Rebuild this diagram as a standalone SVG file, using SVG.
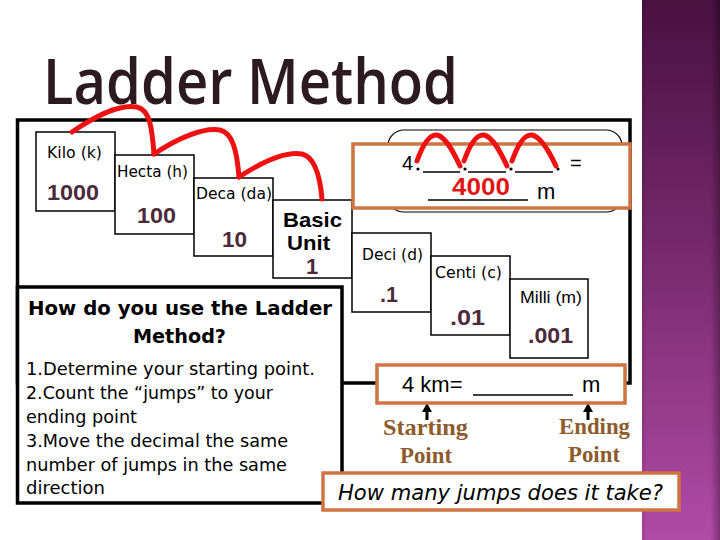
<svg xmlns="http://www.w3.org/2000/svg" width="720" height="540" viewBox="0 0 720 540">
  <defs>
    <linearGradient id="purp" x1="0" y1="0" x2="0" y2="1">
      <stop offset="0" stop-color="#4a1040"/>
      <stop offset="0.5" stop-color="#7a2c70"/>
      <stop offset="1" stop-color="#b24aa8"/>
    </linearGradient>
    <linearGradient id="shade" x1="0" y1="0" x2="1" y2="0">
      <stop offset="0" stop-color="#000" stop-opacity="0.12"/>
      <stop offset="0.06" stop-color="#000" stop-opacity="0"/>
      <stop offset="0.88" stop-color="#000" stop-opacity="0"/>
      <stop offset="1" stop-color="#000" stop-opacity="0.3"/>
    </linearGradient>
    <style>
      .frame { fill: none; stroke: #000; stroke-width: 3.5; }
      .box { fill: #fff; stroke: #000; stroke-width: 1.5; }
      .obox { fill: #fff; stroke: #cf7443; stroke-width: 3.5; }
      .lbl { font-family: "DejaVu Sans", Verdana, sans-serif; font-size: 15px; fill: #000; }
      .lbla { font-family: "Liberation Sans", Arial, sans-serif; font-size: 16px; fill: #000; }
      .num { font-family: "Liberation Sans", Arial, sans-serif; font-weight: bold; font-size: 22px; fill: #4b2a3c; }
      .jump { fill: none; stroke: #ee1111; stroke-width: 5; stroke-linecap: round; stroke-linejoin: round; }
      .ul { stroke: #000; stroke-width: 1.5; }
      .txt { font-family: "DejaVu Sans", Tahoma, sans-serif; font-size: 17px; fill: #000; }
      .head { font-family: "DejaVu Sans", Tahoma, sans-serif; font-size: 19px; font-weight: bold; fill: #000; }
      .pt { font-family: "Liberation Serif", "Times New Roman", serif; font-weight: bold; font-size: 23px; fill: #8e5b2a; }
      .arr { stroke: #000; stroke-width: 3; }
    </style>
  </defs>

  <rect x="0" y="0" width="720" height="540" fill="#fff"/>

  <g id="sidebar">
    <rect x="642" y="0" width="78" height="540" fill="url(#purp)"/>
    <rect x="642" y="0" width="78" height="540" fill="url(#shade)"/>
  </g>

  <g id="title">
    <text x="43" y="104" font-family="'Open Sans', 'DejaVu Sans', sans-serif" font-weight="600" font-size="64" fill="#2b1a1f" textLength="415" lengthAdjust="spacingAndGlyphs">Ladder Method</text>
  </g>

  <g id="main-frame">
    <rect class="frame" x="17.5" y="120" width="612.5" height="263"/>
  </g>

  <g id="kilo">
    <rect class="box" x="36" y="132" width="79" height="79"/>
    <text class="lbl" x="47" y="158" textLength="55" lengthAdjust="spacingAndGlyphs">Kilo (k)</text>
    <text class="num" x="47" y="200" textLength="52" lengthAdjust="spacingAndGlyphs">1000</text>
  </g>
  <g id="hecta">
    <rect class="box" x="115" y="155" width="79" height="79"/>
    <text class="lbl" x="117" y="177" textLength="71" lengthAdjust="spacingAndGlyphs">Hecta (h)</text>
    <text class="num" x="137" y="223" textLength="39" lengthAdjust="spacingAndGlyphs">100</text>
  </g>
  <g id="deca">
    <rect class="box" x="194" y="178" width="79" height="78"/>
    <text class="lbl" x="196" y="199" textLength="76" lengthAdjust="spacingAndGlyphs">Deca (da)</text>
    <text class="num" x="222" y="247" textLength="25" lengthAdjust="spacingAndGlyphs">10</text>
  </g>
  <g id="basic">
    <rect class="box" x="273" y="200" width="79" height="78"/>
    <text x="283" y="227" font-family="'Liberation Sans', Arial, sans-serif" font-weight="bold" font-size="21" fill="#000" textLength="59" lengthAdjust="spacingAndGlyphs">Basic</text>
    <text x="287" y="250" font-family="'Liberation Sans', Arial, sans-serif" font-weight="bold" font-size="21" fill="#000" textLength="43" lengthAdjust="spacingAndGlyphs">Unit</text>
    <text class="num" x="306" y="274" font-size="19">1</text>
  </g>
  <g id="deci">
    <rect class="box" x="352" y="233" width="79" height="79"/>
    <text class="lbl" x="362" y="260" textLength="61" lengthAdjust="spacingAndGlyphs">Deci (d)</text>
    <text class="num" x="380" y="302" textLength="18" lengthAdjust="spacingAndGlyphs">.1</text>
  </g>
  <g id="centi">
    <rect class="box" x="431" y="256" width="79" height="79"/>
    <text class="lbl" x="435" y="278" textLength="67" lengthAdjust="spacingAndGlyphs">Centi (c)</text>
    <text class="num" x="450" y="325" textLength="35" lengthAdjust="spacingAndGlyphs">.01</text>
  </g>
  <g id="milli">
    <rect class="box" x="510" y="279" width="78" height="79"/>
    <text class="lbla" x="520" y="303" textLength="62" lengthAdjust="spacingAndGlyphs">Milli (m)</text>
    <text class="num" x="528" y="343" textLength="45" lengthAdjust="spacingAndGlyphs">.001</text>
  </g>

  <g id="example-top">
    <rect x="388" y="130" width="234" height="82" rx="16" ry="16" fill="#fff" stroke="#000" stroke-width="1.2"/>
    <rect class="obox" x="353" y="144" width="277" height="64"/>
    <text x="402" y="170" font-family="'Liberation Sans', Arial, sans-serif" font-size="20" fill="#000">4</text>
    <circle cx="418" cy="169" r="1.6" fill="#000"/>
    <circle cx="465" cy="169" r="1.6" fill="#000"/>
    <circle cx="511" cy="169" r="1.6" fill="#000"/>
    <circle cx="558" cy="169" r="1.6" fill="#000"/>
    <line class="ul" x1="423" y1="172" x2="460" y2="172"/>
    <line class="ul" x1="468" y1="172" x2="506" y2="172"/>
    <line class="ul" x1="515" y1="172" x2="553" y2="172"/>
    <text x="570" y="170" font-family="'Liberation Sans', Arial, sans-serif" font-size="20" fill="#000">=</text>
    <text x="452" y="195" font-family="'Liberation Sans', Arial, sans-serif" font-weight="bold" font-size="24" fill="#e01515" textLength="58" lengthAdjust="spacingAndGlyphs">4000</text>
    <line class="ul" x1="428" y1="200" x2="528" y2="200"/>
    <text x="537" y="199" font-family="'Liberation Sans', Arial, sans-serif" font-size="22" fill="#000">m</text>
    <path class="jump" d="M417,161 C423,144 430,134 437,135 C446,137 454,153 460,166"/>
    <path class="jump" d="M464,161 C470,144 477,134 484,135 C493,137 501,153 507,166"/>
    <path class="jump" d="M512,161 C518,144 525,134 532,135 C541,137 550,153 556,166"/>
  </g>

  <g id="instructions">
    <rect x="17.5" y="287" width="324.5" height="216" fill="#fff" stroke="#000" stroke-width="3.5"/>
    <text class="head" x="28" y="315" textLength="304" lengthAdjust="spacingAndGlyphs">How do you use the Ladder</text>
    <text class="head" x="133" y="343" textLength="93" lengthAdjust="spacingAndGlyphs">Method?</text>
    <text class="txt" x="26" y="375" textLength="289" lengthAdjust="spacingAndGlyphs">1.Determine your starting point.</text>
    <text class="txt" x="26" y="399" textLength="247" lengthAdjust="spacingAndGlyphs">2.Count the “jumps” to your</text>
    <text class="txt" x="26" y="423" textLength="111" lengthAdjust="spacingAndGlyphs">ending point</text>
    <text class="txt" x="26" y="447" textLength="262" lengthAdjust="spacingAndGlyphs">3.Move the decimal the same</text>
    <text class="txt" x="26" y="471" textLength="261" lengthAdjust="spacingAndGlyphs">number of jumps in the same</text>
    <text class="txt" x="26" y="494" textLength="79" lengthAdjust="spacingAndGlyphs">direction</text>
  </g>

  <g id="connectors">
    <path class="jump" d="M72,132 C98,114 122,104 137,107 C150,110 152,128 154,154"/>
    <path class="jump" d="M154,154 C178,138 204,127 220,130 C233,133 237,152 239,177"/>
    <path class="jump" d="M239,177 C262,162 286,151 302,154 C315,157 320,176 322,199"/>
    <line class="arr" x1="427" y1="420" x2="427" y2="409"/>
    <polygon points="427,403 422,412 432,412" fill="#000"/>
    <line class="arr" x1="588" y1="420" x2="588" y2="409"/>
    <polygon points="588,403 583,412 593,412" fill="#000"/>
  </g>

  <g id="example-question">
    <rect class="obox" x="377" y="365" width="248" height="38"/>
    <text x="402" y="392" font-family="'Liberation Sans', Arial, sans-serif" font-size="22" fill="#000">4 km=</text>
    <line class="ul" x1="473" y1="395" x2="573" y2="395"/>
    <text x="582" y="392" font-family="'Liberation Sans', Arial, sans-serif" font-size="22" fill="#000">m</text>
  </g>

  <g id="starting-point">
    <text class="pt" x="383" y="435" textLength="85" lengthAdjust="spacingAndGlyphs">Starting</text>
    <text class="pt" x="400" y="463" textLength="52" lengthAdjust="spacingAndGlyphs">Point</text>
  </g>
  <g id="ending-point">
    <text class="pt" x="559" y="434" textLength="71" lengthAdjust="spacingAndGlyphs">Ending</text>
    <text class="pt" x="568" y="462" textLength="52" lengthAdjust="spacingAndGlyphs">Point</text>
  </g>

  <g id="jumps-question">
    <rect class="obox" x="323" y="473" width="356" height="37"/>
    <text x="338" y="500" font-family="'DejaVu Sans', Verdana, sans-serif" font-style="italic" font-size="21" fill="#000" textLength="325" lengthAdjust="spacingAndGlyphs">How many jumps does it take?</text>
  </g>
</svg>
